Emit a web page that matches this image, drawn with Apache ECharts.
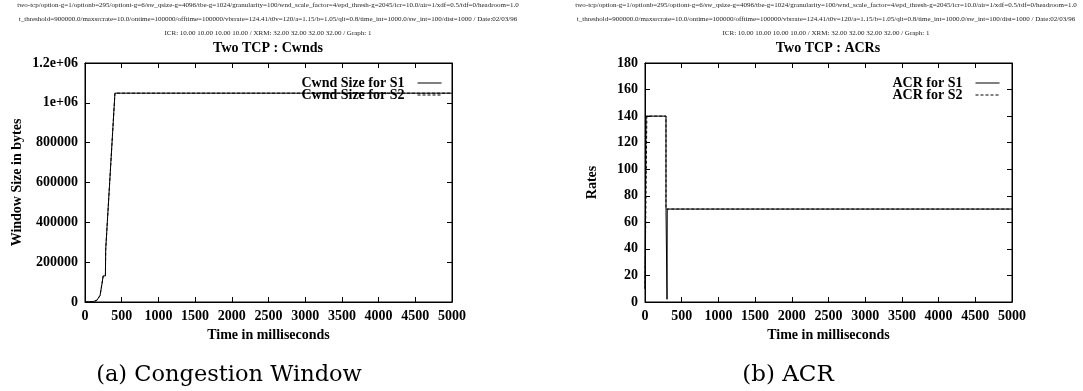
<!DOCTYPE html>
<html>
<head>
<meta charset="utf-8">
<script src="https://cdn.jsdelivr.net/npm/echarts@6/dist/echarts.min.js"></script>
<style>
  html, body { margin: 0; padding: 0; background: #fff; }
  #chart { width: 1083px; height: 391px; }
</style>
</head>
<body>
<div id="chart"></div>
<script>
// header lines (same for both plots)
var headerLines = [
  'two-tcp/option-g=1/optionb=295/optiont-g=6/sw_qsize-g=4096/tbe-g=1024/granularity=100/wnd_scale_factor=4/epd_thresh-g=2045/icr=10.0/air=1/xdf=0.5/tdf=0/headroom=1.0',
  't_threshold=900000.0/maxsrcrate=10.0/ontime=100000/offtime=100000/vbrrate=124.41/t0v=120/a=1.15/b=1.05/qlt=0.8/time_int=1000.0/sw_int=100/dist=1000 / Date:02/03/96',
  'ICR: 10.00 10.00 10.00 10.00 / XRM: 32.00 32.00 32.00 32.00 / Graph: 1'
];

// Cwnd (bytes) vs time (ms)
var cwndS1 = [[0,0],[100,2048],[130,4096],[160,8192],[185,16384],[205,32768],[220,65536],[245,65536],
  [248,131072],[278,131072],[282,262144],[298,262144],[408,1048576],[5000,1048576]];
var cwndS2 = [[0,0],[100,2048],[130,4096],[160,8192],[185,16384],[205,32768],[220,65536],[245,65536],
  [248,131072],[278,131072],[282,262144],[298,262144],[408,1048576],[5000,1048576]];

// ACR (rates) vs time (ms)
var acrS1 = [[0,10],[14,10],[14,140],[286,140],[286,70],[300,70],[300,2],[303,70],[5000,70]];
var acrS2 = [[0,10],[25,10],[25,140],[286,140],[286,70],[5000,70]];

var cwndTickLabels = { 1000000: '1e+06', 1200000: '1.2e+06' };

var chart = echarts.init(document.getElementById('chart'), null, { renderer: 'canvas' });

var serif = 'Liberation Serif';
var lbl = { color: '#000', fontFamily: serif, fontWeight: 'bold', fontSize: 14 };

function xAx(grid, top) {
  return {
    type: 'value', gridIndex: grid, min: 0, max: 5000, interval: 500,
    position: top ? 'top' : 'bottom',
    axisLine: { show: true, onZero: false, lineStyle: { color: '#000', width: 1 } },
    axisTick: { show: true, inside: true, length: 5, lineStyle: { color: '#000' } },
    axisLabel: top ? { show: false } : Object.assign({ margin: 7, formatter: function (v) { return String(v); } }, lbl),
    splitLine: { show: false },
    name: top ? '' : 'Time in milliseconds',
    nameLocation: 'middle', nameGap: 18,
    nameTextStyle: lbl
  };
}
function yAx(grid, right, max, interval, name, gap, fmt) {
  return {
    type: 'value', gridIndex: grid, min: 0, max: max, interval: interval,
    position: right ? 'right' : 'left',
    axisLine: { show: true, onZero: false, lineStyle: { color: '#000', width: 1 } },
    axisTick: { show: true, inside: true, length: 5, lineStyle: { color: '#000' } },
    axisLabel: right ? { show: false } : Object.assign({ margin: 7, formatter: fmt || function (v) { return String(v); } }, lbl),
    splitLine: { show: false },
    name: right ? '' : name,
    nameLocation: 'middle', nameGap: gap,
    nameTextStyle: lbl
  };
}

function txt(x, y, s, size, weight, family, color) {
  return {
    type: 'text', x: x, y: y,
    style: { text: s, fill: color || '#000', font: (weight || 'normal') + ' ' + size + 'px "' + (family || serif) + '"',
      textAlign: 'center', textVerticalAlign: 'middle' }
  };
}

var graphics = [];
[268, 826].forEach(function (cx) {
  graphics.push(txt(cx, 5, headerLines[0], 7, 'normal', serif, '#222'));
  graphics.push(txt(cx, 19, headerLines[1], 7, 'normal', serif, '#222'));
  graphics.push(txt(cx, 33, headerLines[2], 7, 'normal', serif, '#222'));
});
graphics.push(txt(268, 48, 'Two TCP : Cwnds', 14, 'bold'));
graphics.push(txt(828, 48, 'Two TCP : ACRs', 14, 'bold'));
graphics.push(txt(229, 375, '(a) Congestion Window', 22.5, 'normal', 'DejaVu Serif'));
graphics.push(txt(788, 375, '(b) ACR', 23, 'normal', 'DejaVu Serif'));

function line(name, data, xi, yi, dashed) {
  return {
    name: name, type: 'line', data: data, xAxisIndex: xi, yAxisIndex: yi,
    symbol: 'none', silent: true,
    lineStyle: { color: '#000', width: 1, type: dashed ? [3, 2] : 'solid' },
    itemStyle: { color: '#000' }
  };
}

function legend(names, right) {
  return {
    data: names, orient: 'vertical', align: 'right', right: right, top: 71,
    itemWidth: 24, itemHeight: 11, itemGap: -2,
    itemStyle: { color: 'rgba(0,0,0,0)', borderColor: 'rgba(0,0,0,0)', borderWidth: 0 },
    lineStyle: { width: 1 },
    textStyle: Object.assign({ padding: [0, 8, 0, 0] }, lbl),
    selectedMode: false
  };
}

chart.setOption({
  animation: false,
  backgroundColor: '#fff',
  grid: [
    { left: 85, top: 63, width: 367, height: 239, show: true, borderColor: '#000', borderWidth: 1 },
    { left: 645, top: 63, width: 367, height: 239, show: true, borderColor: '#000', borderWidth: 1 }
  ],
  xAxis: [xAx(0, false), xAx(0, true), xAx(1, false), xAx(1, true)],
  yAxis: [
    yAx(0, false, 1200000, 200000, 'Window Size in bytes', 61, function (v) { return cwndTickLabels[v] || String(v); }),
    yAx(0, true, 1200000, 200000),
    yAx(1, false, 180, 20, 'Rates', 46),
    yAx(1, true, 180, 20)
  ],
  legend: [
    legend(['Cwnd Size for S1', 'Cwnd Size for S2'], 636),
    legend(['ACR for S1', 'ACR for S2'], 78)
  ],
  series: [
    line('Cwnd Size for S1', cwndS1, 0, 0, false),
    line('Cwnd Size for S2', cwndS2, 0, 0, true),
    line('ACR for S1', acrS1, 2, 2, false),
    line('ACR for S2', acrS2, 2, 2, true)
  ],
  graphic: graphics
});
</script>
</body>
</html>
